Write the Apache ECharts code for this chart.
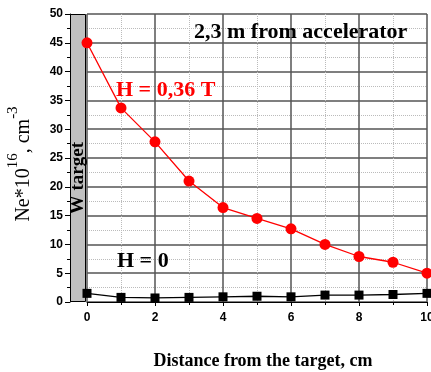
<!DOCTYPE html>
<html><head><meta charset="utf-8">
<script src="https://cdn.jsdelivr.net/npm/echarts@6/dist/echarts.min.js"></script>
<style>html,body{margin:0;padding:0;background:#fff}#c{width:431px;height:372px}</style>
</head><body><div id="c"></div>
<script>
const distances = [0,1,2,3,4,5,6,7,8,9,10];
const neField = [45,33.7,27.8,21,16.4,14.5,12.7,10,7.9,6.9,5];
const neNoField = [1.5,0.8,0.7,0.8,0.9,1.0,0.9,1.2,1.2,1.3,1.5];
const bandCategory = ['W target'];
const bandValue = [50];

const chart = echarts.init(document.getElementById('c'));
const serif = '"Liberation Serif", "DejaVu Serif", serif';
const sans = '"Liberation Sans", Arial, sans-serif';
chart.setOption({
  animation: false,
  backgroundColor: '#fff',
  grid: [
    {left: 70, width: 16, top: 14, bottom: 70, outerBoundsMode: 'none', containLabel: false},
    {left: 87, right: 4, top: 14, bottom: 70, outerBoundsMode: 'none', containLabel: false}
  ],
  xAxis: [
    {gridIndex: 0, type: 'category', data: bandCategory, show: false},
    {gridIndex: 1, type: 'value', min: 0, max: 10, interval: 2,
     axisLine: {show: true, onZero: false, lineStyle: {color: '#000', width: 1}},
     axisTick: {show: true, length: 4, lineStyle: {color: '#000'}},
     minorTick: {show: true, splitNumber: 2, length: 3, lineStyle: {color: '#000'}},
     axisLabel: {color: '#000', fontFamily: sans, fontWeight: 'bold', fontSize: 12, margin: 10, hideOverlap: false},
     splitLine: {show: true, lineStyle: {color: '#555', width: 1.5}},
     minorSplitLine: {show: true, lineStyle: {color: '#bbb', type: 'dotted', width: 1}},
     name: 'Distance from the target, cm', nameLocation: 'middle', nameGap: 50,
     nameTextStyle: {color: '#000', fontFamily: serif, fontWeight: 'bold', fontSize: 18, padding: [0,0,0,12]}
    }
  ],
  yAxis: [
    {gridIndex: 0, type: 'value', min: 0, max: 50, interval: 5,
     axisLine: {show: true, lineStyle: {color: '#000'}},
     axisTick: {show: true, length: 5, lineStyle: {color: '#000'}},
     minorTick: {show: true, splitNumber: 2, length: 3, lineStyle: {color: '#000'}},
     axisLabel: {color: '#000', fontFamily: sans, fontWeight: 'bold', fontSize: 12, margin: 7},
     splitLine: {show: false},
     name: '{b|Ne*10}{s|16}{b|, cm}{s|-3}', nameLocation: 'middle', nameGap: 36,
     nameTextStyle: {color: '#000', padding: [0,12,0,0], rich: {
       b: {fontFamily: serif, fontSize: 20, color: '#000', verticalAlign: 'bottom', lineHeight: 28},
       s: {fontFamily: serif, fontSize: 15, color: '#000', verticalAlign: 'top', lineHeight: 28, padding: [0,0,12,0]}
     }}
    },
    {gridIndex: 1, type: 'value', min: 0, max: 50, interval: 5,
     axisLine: {show: false}, axisTick: {show: false}, axisLabel: {show: false},
     splitLine: {show: true, lineStyle: {color: '#555', width: 1.5}},
     minorTick: {show: false, splitNumber: 2},
     minorSplitLine: {show: true, lineStyle: {color: '#bbb', type: 'dotted', width: 1}}
    }
  ],
  title: [
    {text: '2,3 m from accelerator', left: 194, top: 21, padding: 0,
     textStyle: {fontFamily: serif, fontWeight: 'bold', fontSize: 22, color: '#000'}},
    {text: 'H = 0,36 T', left: 116, top: 79, padding: 0,
     textStyle: {fontFamily: serif, fontWeight: 'bold', fontSize: 22, color: '#ff0000'}},
    {text: 'H = 0', left: 117, top: 250, padding: 0,
     textStyle: {fontFamily: serif, fontWeight: 'bold', fontSize: 22, color: '#000'}}
  ],
  series: [
    {type: 'bar', xAxisIndex: 0, yAxisIndex: 0, data: bandValue, barWidth: '100%',
     itemStyle: {color: '#c0c0c0', borderColor: '#000', borderWidth: 1},
     label: {show: true, formatter: '{b}', position: ['50%', '57%'], rotate: 90,
       align: 'center', verticalAlign: 'middle',
       fontFamily: serif, fontWeight: 'bold', fontSize: 19, color: '#000'},
     z: 5},
    {type: 'line', xAxisIndex: 1, yAxisIndex: 1,
     data: distances.map((d, i) => [d, neField[i]]),
     symbol: 'circle', symbolSize: 11, clip: false,
     lineStyle: {color: '#ff0000', width: 1.3}, itemStyle: {color: '#ff0000'}, z: 6},
    {type: 'line', xAxisIndex: 1, yAxisIndex: 1,
     data: distances.map((d, i) => [d, neNoField[i]]),
     symbol: 'rect', symbolSize: 9, clip: false,
     lineStyle: {color: '#000', width: 1.3}, itemStyle: {color: '#000'}, z: 6}
  ]
});
</script></body></html>
